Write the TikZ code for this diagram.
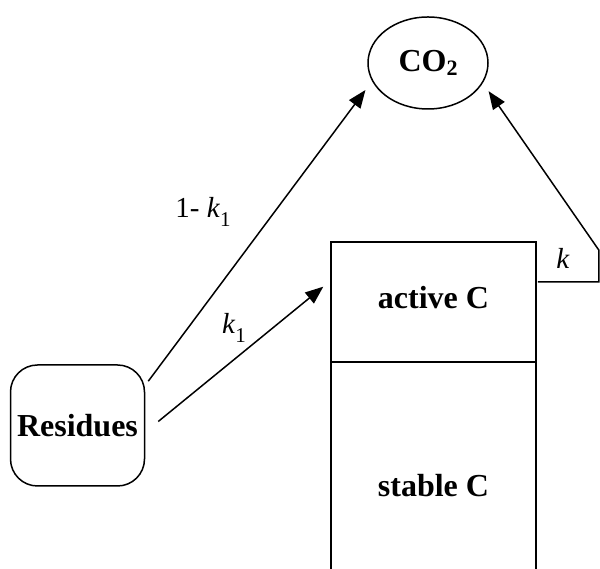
\documentclass[tikz,border=0pt]{standalone}
\usepackage{fontspec}
\setmainfont{Liberation Serif}
\usetikzlibrary{shapes.geometric,arrows.meta,calc}
\begin{document}
\begin{tikzpicture}[x=1pt,y=1pt,
  line width=1.5pt,
  arr/.style={-{Triangle[length=18pt,width=14pt]}},
  big/.style={font=\fontsize{32}{36}\selectfont\bfseries},
  lbl/.style={font=\fontsize{29}{32}\selectfont, inner sep=0pt},
  pool/.style={draw, rectangle, minimum width=205pt, inner sep=0pt, big}]
\useasboundingbox (0,0) rectangle (600,569);
\clip (0,0) rectangle (600,569);
\node[draw, ellipse, minimum width=120pt, minimum height=92pt, inner sep=0pt, big] (co2) at (428,506) {CO\raisebox{-0.3ex}{\fontsize{22}{22}\selectfont 2}};
\node[pool, minimum height=120pt] (active) at (433.5,267) {\raisebox{9pt}{active C}};
\node[pool, minimum height=247pt] (stable) at (433.5,83.5) {stable C};
\node[draw, rounded corners=27pt, minimum width=134pt, minimum height=121pt, inner sep=0pt, big] (res) at (77.5,143.5) {Residues};
\draw[arr, shorten >=11pt] ([shift={(3,-17)}]res.north east) -- (co2.198);
\draw[arr, shorten >=9pt] ([shift={(13,4)}]res.east) -- ([yshift=21]active.west);
\coordinate (kc1) at ([shift={(62,20)}]active.east);
\coordinate (kc2) at ([shift={(62,52)}]active.east);
\draw[arr, shorten >=10pt] ([shift={(1,20)}]active.east) -- (kc1) -- (kc2) -- (co2.340);
\node[lbl] (l1) at (203,357) {1- \textit{k}\raisebox{-0.3em}{\fontsize{21}{21}\selectfont 1}};
\node[lbl] (l2) at (234,241) {\textit{k}\raisebox{-0.3em}{\fontsize{21}{21}\selectfont 1}};
\node[lbl] (l3) at (563,311) {\textit{k}};
\end{tikzpicture}
\end{document}
